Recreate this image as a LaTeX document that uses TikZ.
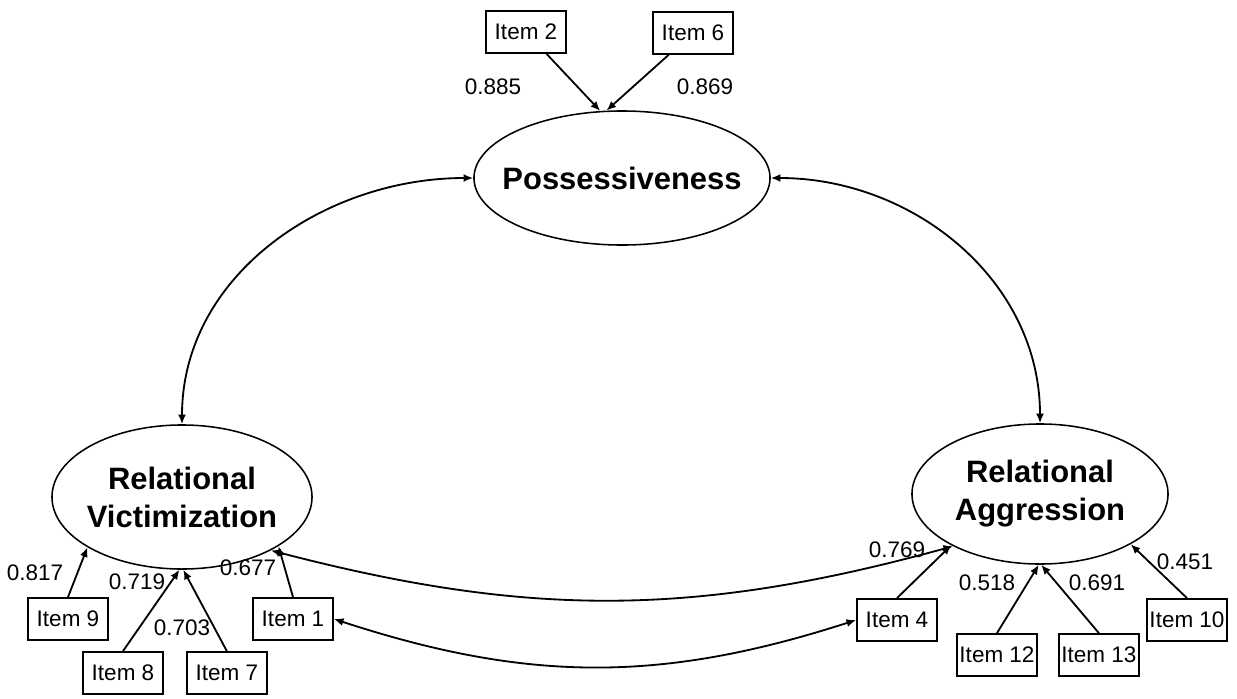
\documentclass[tikz,border=0pt]{standalone}
\usepackage{fontspec}
\setmainfont{Liberation Sans}
\usepackage{tikz}
\usetikzlibrary{positioning}
\usetikzlibrary{arrows.meta}
\usetikzlibrary{shapes}

\begin{document}
\begin{tikzpicture}[x=0.025cm,y=-0.025cm,line width=1.3pt,
      item style/.style={rectangle,draw=black,line width=1.3pt,minimum
        width=2cm,minimum height=1.05cm,inner sep=1pt,
        font=\fontsize{16}{18}\selectfont},
      latent style/.style={ellipse,draw=black,line width=1.1pt,inner
        sep=0pt,align=center,font=\fontsize{22}{27}\selectfont\bfseries},
      coef style/.style={font=\fontsize{16}{18}\selectfont},
      load arrow/.style={-{Latex[length=2.4mm,width=2mm]}},
      cov arrow/.style={{Latex[length=2.4mm,width=2mm]}-{Latex[length=2.4mm,width=2mm]}}
      ]
      \useasboundingbox (0,0) rectangle (1237,698);

      % latent factors
      \node[latent style,inner xsep=-0.42cm,minimum width=7.4cm,minimum height=3.35cm] (poss) at (622,178) {Possessiveness};
      \node[latent style,inner xsep=-0.1cm,minimum width=6.5cm,minimum height=3.6cm] (relvic) at (182,497) {Relational\\Victimization};
      \node[latent style,minimum width=6.4cm,minimum height=3.5cm] (relagg) at (1040,494) {Relational\\Aggression};

      % items
      \node[item style] (item2) at (526,32) {Item 2};
      \node[item style] (item6) at (693,33) {Item 6};
      \node[item style] (item9) at (68,619) {Item 9};
      \node[item style] (item8) at (123,673) {Item 8};
      \node[item style, right=0.55cm of item8] (item7) {Item 7};
      \node[item style] (item1) at (293,619) {Item 1};
      \node[item style] (item4) at (897,620) {Item 4};
      \node[item style] (item12) at (997,655) {Item 12};
      \node[item style, right=0.5cm of item12] (item13) {Item 13};
      \node[item style] (item10) at (1187,620) {Item 10};

      \draw[load arrow] (item2) -- (poss.108);
      \draw[load arrow] (item6) -- (poss.103);

      \draw[load arrow] (item9.north) -- (relvic.208);
      \draw[load arrow] (item8.north) -- (relvic.268);
      \draw[load arrow] (item7.north) -- (relvic.271);
      \draw[load arrow] (item1.north) -- (relvic.333);

      \draw[load arrow] (item4.north) -- (relagg.210);
      \draw[load arrow] (item12.north) -- (relagg.269);
      \draw[load arrow] (item13.north) -- (relagg.271);
      \draw[load arrow] (item10.north) -- (relagg.331);

      % loadings
      \node[coef style] (c885) at (493,87) {0.885};
      \node[coef style] (c869) at (705,87) {0.869};
      \node[coef style] (c817) at (35,573) {0.817};
      \node[coef style] (c719) at (137,582) {0.719};
      \node[coef style] (c703) at (182,628) {0.703};
      \node[coef style] (c677) at (248,568) {0.677};
      \node[coef style] (c769) at (897,550) {0.769};
      \node[coef style] (c518) at (987,583) {0.518};
      \node[coef style] (c691) at (1097,583) {0.691};
      \node[coef style] (c451) at (1185,562) {0.451};

      % covariances
      \draw[cov arrow] (poss.west) to[out=180,in=90] (relvic.north);
      \draw[cov arrow] (poss.east) to[out=0,in=90] (relagg.north);
      \draw[cov arrow] (relvic.329) to[bend right=15] (relagg.211);
      \draw[cov arrow] (item1.east) to[bend right=18] (item4.west);

    \end{tikzpicture}
\end{document}
